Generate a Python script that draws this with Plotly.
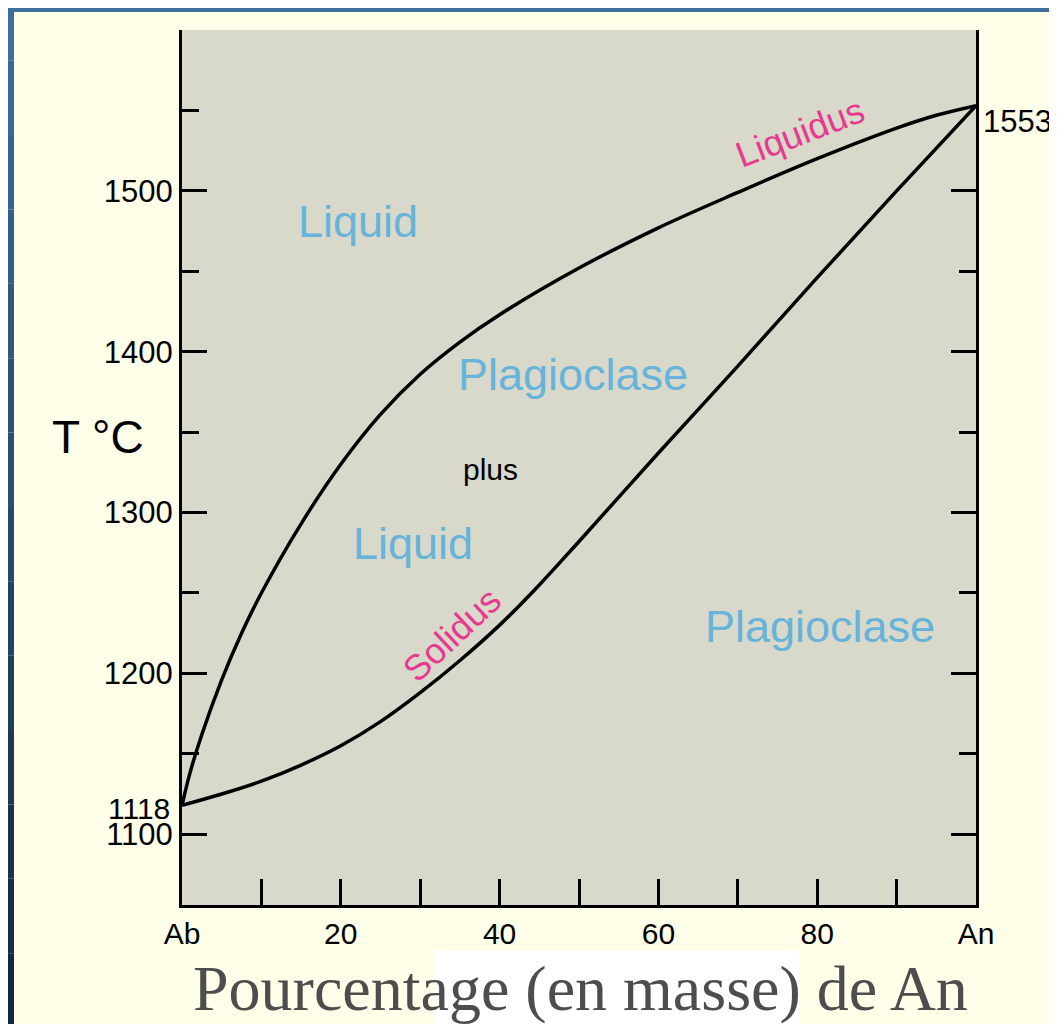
import plotly.graph_objects as go

# phase diagram Ab-An (plagioclase)
liquidus_an = [0, 1, 2.5, 5, 7.5, 10, 15, 20, 25, 30, 35, 40, 50, 60, 70, 80, 90, 95, 100]
liquidus_t = [1118, 1138, 1162, 1196, 1225, 1250, 1293, 1330, 1361, 1386, 1406, 1423, 1452, 1477, 1499, 1520, 1539, 1547, 1553]

solidus_an = [0, 5, 10, 15, 20, 25, 30, 35, 40, 45, 50, 60, 70, 80, 90, 100]
solidus_t = [1118, 1125, 1133, 1143, 1155, 1170, 1188, 1208, 1230, 1255, 1282, 1337, 1391, 1446, 1500, 1553]

x_ticks = [0, 10, 20, 30, 40, 50, 60, 70, 80, 90, 100]
x_labels = ["Ab", "", "20", "", "40", "", "60", "", "80", "", "An"]
y_major = [1100, 1200, 1300, 1400, 1500]
y_minor_left = [1150, 1250, 1350, 1450, 1550]
y_minor_right = [1150, 1250, 1350, 1450]

fields = [
    ("Liquid", 22.2, 1481),
    ("Plagioclase", 49.2, 1386),
    ("Liquid", 29.1, 1281),
    ("Plagioclase", 80.4, 1229),
]
curve_names = [("Liquidus", 77.8, 1536, -21), ("Solidus", 34.0, 1224, -43)]

BLUE = "#67b3d9"
PINK = "#e8388f"
SANS = "Liberation Sans, Arial, sans-serif"

fig = go.Figure()
fig.add_trace(go.Scatter(x=liquidus_an, y=liquidus_t, mode="lines",
                         line=dict(color="black", width=3.5, shape="spline", smoothing=1),
                         hoverinfo="skip", showlegend=False))
fig.add_trace(go.Scatter(x=solidus_an, y=solidus_t, mode="lines",
                         line=dict(color="black", width=3.5, shape="spline", smoothing=1),
                         hoverinfo="skip", showlegend=False))
fig.add_trace(go.Scatter(x=[None], y=[None], yaxis="y2", showlegend=False, hoverinfo="skip"))

for text, a, t in fields:
    fig.add_annotation(x=a, y=t, text=text, showarrow=False,
                       font=dict(family=SANS, size=45, color=BLUE))
fig.add_annotation(x=38.9, y=1327, text="plus", showarrow=False,
                   font=dict(family=SANS, size=30, color="black"))
for text, a, t, ang in curve_names:
    fig.add_annotation(x=a, y=t, text=text, showarrow=False, textangle=ang,
                       font=dict(family=SANS, size=36, color=PINK))

fig.add_annotation(x=100, y=1553, text="1553", showarrow=False, xanchor="left",
                   xshift=5, yshift=-16, font=dict(family=SANS, size=31, color="black"))
fig.add_annotation(x=0, xref="paper", y=1118, text="1118", showarrow=False, xanchor="right",
                   xshift=-10, yshift=-3, font=dict(family=SANS, size=30, color="black"))
fig.add_annotation(x=-0.106, xref="paper", xanchor="center", y=0.535, yref="paper",
                   text="T °C", showarrow=False,
                   font=dict(family=SANS, size=46, color="black"))
fig.add_annotation(x=0.5025, xref="paper", xanchor="center", y=-0.095, yref="paper",
                   yanchor="middle", text="Pourcentage (en masse) de An", showarrow=False,
                   font=dict(family="Liberation Serif, Times New Roman, serif", size=64, color="#4d4d4d"))

# frame: thin blue border strips and the white patch behind the caption
n = 14
for i in range(n):
    f = i / (n - 1)
    r = int(0x3d + (0x14 - 0x3d) * f)
    g = int(0x6f + (0x27 - 0x6f) * f)
    b = int(0x9e + (0x40 - 0x9e) * f)
    fig.add_shape(type="rect", xref="paper", yref="paper",
                  x0=-0.25, x1=(14 - 182) / 794,
                  y0=1.05 - (i + 1) * 1.19 / n, y1=1.05 - i * 1.19 / n,
                  line_width=0, fillcolor=f"rgb({r},{g},{b})", layer="below")
fig.add_shape(type="rect", xref="paper", yref="paper", x0=-0.25, x1=1.12,
              y0=(905 - 12) / 875, y1=1.05, line_width=0, fillcolor="#3d6f9e", layer="below")
fig.add_shape(type="rect", xref="paper", yref="paper", x0=(433 - 182) / 794, x1=(799 - 182) / 794,
              y0=-0.15, y1=(905 - 950) / 875, line_width=0, fillcolor="white", layer="below")

axis_common = dict(showgrid=False, zeroline=False, showline=True, linecolor="black", linewidth=3,
                   ticks="inside", tickcolor="black", tickwidth=3)

# page body has an 8px margin, so the figure is 8px smaller than the window
fig.update_layout(
    width=1049, height=1016,
    margin=dict(l=174, r=81, t=22, b=119),
    paper_bgcolor="#fefee9", plot_bgcolor="#d8d9cb",
    font=dict(family=SANS, color="black"),
    xaxis=dict(range=[0, 100], tickvals=x_ticks, ticktext=x_labels, ticklen=26,
               tickfont=dict(size=30), ticklabelstandoff=0, **axis_common),
    yaxis=dict(range=[1056, 1600], tickvals=y_major, ticklen=25, tickfont=dict(size=31),
               ticklabelstandoff=0,
               minor=dict(tickvals=y_minor_left, ticks="inside", ticklen=17, tickwidth=3, tickcolor="black"),
               **axis_common),
    yaxis2=dict(range=[1056, 1600], overlaying="y", side="right", tickvals=y_major, ticklen=25,
                showticklabels=False,
                minor=dict(tickvals=y_minor_right, ticks="inside", ticklen=17, tickwidth=3, tickcolor="black"),
                **axis_common),
)

fig.write_html("out.html")
